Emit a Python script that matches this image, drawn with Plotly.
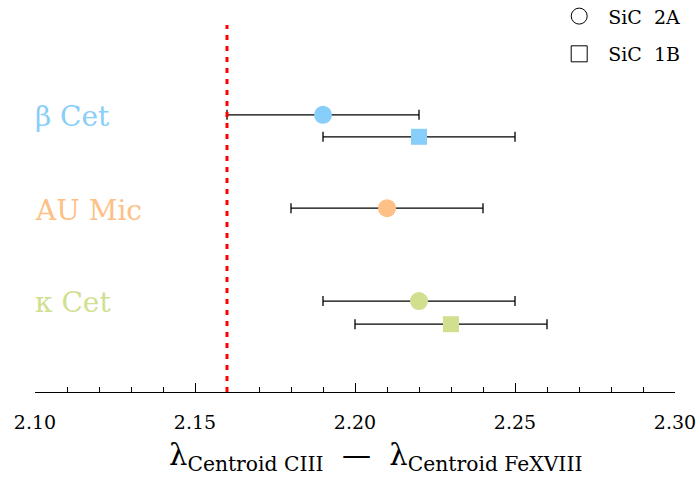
import plotly.graph_objects as go

# Data
stars = ["β Cet", "AU Mic", "κ Cet"]
star_colors = ["#87CEFA", "#FDC086", "#D0E08F"]
label_y = [7.02, 4.64, 2.29]

# SiC 2A (circles)
c_x = [2.19, 2.21, 2.22]
c_lo = [2.16, 2.18, 2.19]
c_hi = [2.22, 2.24, 2.25]
c_y = [7.07, 4.69, 2.32]

# SiC 1B (squares)
s_x = [2.22, 2.23]
s_lo = [2.19, 2.20]
s_hi = [2.25, 2.26]
s_y = [6.51, 1.73]
s_colors = ["#87CEFA", "#D0E08F"]

ref_x = 2.16
xticks = [2.10, 2.15, 2.20, 2.25, 2.30]
xtick_text = ["2.10", "2.15", "2.20", "2.25", "2.30"]

fig = go.Figure()

fig.add_trace(go.Scatter(
    x=c_x, y=c_y, mode="markers",
    marker=dict(symbol="circle", size=18, color=star_colors, line=dict(width=0)),
    error_x=dict(type="data", symmetric=False,
                 array=[h - x for h, x in zip(c_hi, c_x)],
                 arrayminus=[x - l for l, x in zip(c_lo, c_x)],
                 color="black", thickness=1.3, width=5),
    showlegend=False))

fig.add_trace(go.Scatter(
    x=s_x, y=s_y, mode="markers",
    marker=dict(symbol="square", size=16, color=s_colors, line=dict(width=0)),
    error_x=dict(type="data", symmetric=False,
                 array=[h - x for h, x in zip(s_hi, s_x)],
                 arrayminus=[x - l for l, x in zip(s_lo, s_x)],
                 color="black", thickness=1.3, width=5),
    showlegend=False))

# legend entries
fig.add_trace(go.Scatter(x=[None], y=[None], mode="markers", name="SiC  2A", legendgroup="a",
                         marker=dict(symbol="circle-open", size=18, color="black", line=dict(width=1))))
fig.add_trace(go.Scatter(x=[None], y=[None], mode="markers", name="SiC  1B", legendgroup="b",
                         marker=dict(symbol="square-open", size=16, color="black", line=dict(width=1))))

# invisible trace carrying the tick-label axis
fig.add_trace(go.Scatter(x=c_x, y=c_y, mode="none", xaxis="x2", hoverinfo="skip", showlegend=False))

# reference line
fig.add_shape(type="line", x0=ref_x, x1=ref_x, y0=0, y1=9.36, xref="x", yref="y",
              line=dict(color="red", width=3, dash="5px,6px"))

for name, col, ly in zip(stars, star_colors, label_y):
    fig.add_annotation(x=-0.003, y=ly, xref="paper", yref="y", text=name, showarrow=False,
                       xanchor="left", yanchor="middle",
                       font=dict(family="DejaVu Serif", size=28, color=col))

fig.add_annotation(x=0.532, y=-0.165, xref="paper", yref="paper",
                   text="λ<sub>Centroid CIII</sub>  —  λ<sub>Centroid FeXVIII</sub>",
                   showarrow=False, xanchor="center", yanchor="middle",
                   font=dict(family="DejaVu Serif", size=29, color="black"))

fig.update_layout(
    width=698, height=483,
    margin=dict(l=35, r=23, t=0, b=91, autoexpand=False),
    plot_bgcolor="white", paper_bgcolor="white",
    hovermode=False,
    legend=dict(x=0.805, y=1.007, xanchor="left", yanchor="top",
                font=dict(family="DejaVu Serif", size=19, color="black"),
                bgcolor="rgba(0,0,0,0)", tracegroupgap=10, itemwidth=48,
                traceorder="grouped"),
    xaxis=dict(range=[2.10, 2.30], tickvals=xticks, showticklabels=False,
               ticks="inside", ticklen=9, tickcolor="black", tickwidth=1,
               minor=dict(dtick=0.01, ticks="inside", ticklen=5, tickcolor="black", tickwidth=1, showgrid=False),
               showline=True, linecolor="black", linewidth=1, showgrid=False, zeroline=False,
               automargin=False),
    xaxis2=dict(range=[2.10, 2.30], overlaying="x", side="bottom", anchor="y",
                tickvals=xticks, ticktext=xtick_text,
                ticks="outside", ticklen=13, tickcolor="rgba(0,0,0,0)",
                showline=False, showgrid=False, zeroline=False,
                automargin=False, ticklabeloverflow="allow",
                tickfont=dict(family="DejaVu Serif", size=19, color="black")),
    yaxis=dict(range=[0, 10], visible=False, showgrid=False, zeroline=False),
)

fig.write_html("out.html", config={"displayModeBar": False, "staticPlot": True},
               post_script="document.body.style.margin='0';document.body.style.overflow='hidden';")
